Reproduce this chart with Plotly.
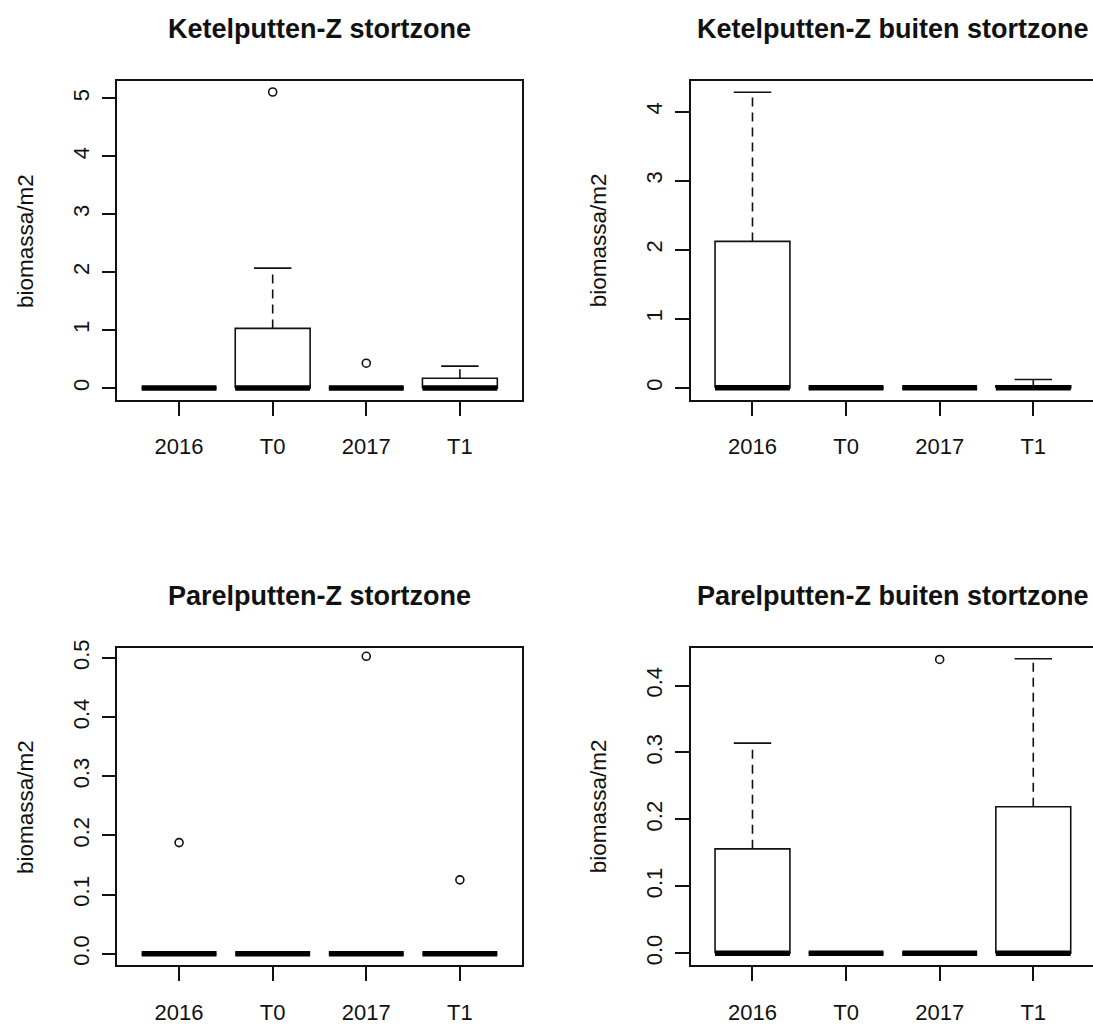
import plotly.graph_objects as go

# Sampling moments shared by all four panels
categories = ["2016", "T0", "2017", "T1"]

# Panel 1: Ketelputten-Z stortzone
kz_q1 = [0.0, 0.0, 0.0, 0.0]
kz_median = [0.0, 0.0, 0.0, 0.0]
kz_q3 = [0.0, 1.03, 0.0, 0.17]
kz_low = [0.0, 0.0, 0.0, 0.0]
kz_high = [0.0, 2.07, 0.0, 0.38]
kz_outliers = [[], [5.11], [0.43], []]

# Panel 2: Ketelputten-Z buiten stortzone
kb_q1 = [0.0, 0.0, 0.0, 0.0]
kb_median = [0.0, 0.0, 0.0, 0.0]
kb_q3 = [2.12, 0.0, 0.0, 0.03]
kb_low = [0.0, 0.0, 0.0, 0.0]
kb_high = [4.28, 0.0, 0.0, 0.12]
kb_outliers = [[], [], [], []]

# Panel 3: Parelputten-Z stortzone
pz_q1 = [0.0, 0.0, 0.0, 0.0]
pz_median = [0.0, 0.0, 0.0, 0.0]
pz_q3 = [0.0, 0.0, 0.0, 0.0]
pz_low = [0.0, 0.0, 0.0, 0.0]
pz_high = [0.0, 0.0, 0.0, 0.0]
pz_outliers = [[0.188], [], [0.503], [0.125]]

# Panel 4: Parelputten-Z buiten stortzone
pb_q1 = [0.0, 0.0, 0.0, 0.0]
pb_median = [0.0, 0.0, 0.0, 0.0]
pb_q3 = [0.156, 0.0, 0.0, 0.219]
pb_low = [0.0, 0.0, 0.0, 0.0]
pb_high = [0.314, 0.0, 0.0, 0.44]
pb_outliers = [[], [], [0.439], []]

titles = [
    "Ketelputten-Z stortzone",
    "Ketelputten-Z buiten stortzone",
    "Parelputten-Z stortzone",
    "Parelputten-Z buiten stortzone",
]
y_label = "biomassa/m2"

W, H = 1093, 1025
FONT = "Liberation Sans, Arial, sans-serif"
INK = "#111111"
BOX_HALF = 0.4
CAP_HALF = 0.2
LW = 1.6

# plot areas in pixels: (left, right, top, bottom)
areas = [
    (117.3, 522.0, 74.0, 397.7),
    (690.7, 1093.0, 74.0, 397.7),
    (117.3, 522.0, 648.7, 970.7),
    (690.7, 1093.0, 648.7, 970.7),
]
x_unit = 93.6  # pixels per category step
y_ranges = [(-0.21, 5.30), (-0.18, 4.443), (-0.0197, 0.5173), (-0.0182, 0.4564)]
y_ticks = [
    ([0, 1, 2, 3, 4, 5], ["0", "1", "2", "3", "4", "5"]),
    ([0, 1, 2, 3, 4], ["0", "1", "2", "3", "4"]),
    ([0, 0.1, 0.2, 0.3, 0.4, 0.5], ["0.0", "0.1", "0.2", "0.3", "0.4", "0.5"]),
    ([0, 0.1, 0.2, 0.3, 0.4], ["0.0", "0.1", "0.2", "0.3", "0.4"]),
]

panels = [
    (kz_q1, kz_median, kz_q3, kz_low, kz_high, kz_outliers),
    (kb_q1, kb_median, kb_q3, kb_low, kb_high, kb_outliers),
    (pz_q1, pz_median, pz_q3, pz_low, pz_high, pz_outliers),
    (pb_q1, pb_median, pb_q3, pb_low, pb_high, pb_outliers),
]

fig = go.Figure()
annotations = []
layout_axes = {}

for i, (q1, med, q3, lo, hi, outl) in enumerate(panels):
    n = i + 1
    xa = "x" if n == 1 else f"x{n}"
    ya = "y" if n == 1 else f"y{n}"
    left, right, top, bottom = areas[i]
    x0 = 0.34
    x1 = x0 + (right - left) / x_unit

    for k in range(len(categories)):
        c = k + 1
        # box outline
        fig.add_trace(go.Scatter(
            x=[c - BOX_HALF, c + BOX_HALF, c + BOX_HALF, c - BOX_HALF, c - BOX_HALF],
            y=[q1[k], q1[k], q3[k], q3[k], q1[k]],
            mode="lines", line=dict(color=INK, width=LW),
            xaxis=xa, yaxis=ya, showlegend=False, hoverinfo="skip"))
        # dashed whiskers
        for a, b in ((q3[k], hi[k]), (q1[k], lo[k])):
            fig.add_trace(go.Scatter(
                x=[c, c], y=[a, b], mode="lines",
                line=dict(color=INK, width=LW, dash="9px,6px"),
                xaxis=xa, yaxis=ya, showlegend=False, hoverinfo="skip"))
        # whisker caps
        for v in (hi[k], lo[k]):
            fig.add_trace(go.Scatter(
                x=[c - CAP_HALF, c + CAP_HALF], y=[v, v], mode="lines",
                line=dict(color=INK, width=LW),
                xaxis=xa, yaxis=ya, showlegend=False, hoverinfo="skip"))
        # thick median
        fig.add_trace(go.Scatter(
            x=[c - BOX_HALF, c + BOX_HALF], y=[med[k], med[k]], mode="lines",
            line=dict(color="#000000", width=5.5),
            xaxis=xa, yaxis=ya, showlegend=False, hoverinfo="skip"))
        # outliers
        if outl[k]:
            fig.add_trace(go.Scatter(
                x=[c] * len(outl[k]), y=outl[k], mode="markers",
                marker=dict(symbol="circle-open", size=8, color=INK,
                            line=dict(width=1.6, color=INK)),
                xaxis=xa, yaxis=ya, showlegend=False, hoverinfo="skip"))

    right_col = n in (2, 4)
    layout_axes["xaxis" if n == 1 else f"xaxis{n}"] = dict(
        domain=[left / W, right / W], range=[x0, x1], anchor=ya,
        tickmode="array", tickvals=[1, 2, 3, 4], ticktext=categories,
        ticks="outside", ticklen=14, tickwidth=LW, tickcolor=INK,
        showline=True, linecolor=INK, linewidth=LW, mirror=True,
        showgrid=False, zeroline=False, ticklabelstandoff=12,
        tickfont=dict(family=FONT, size=22, color=INK), fixedrange=True)
    tv, tt = y_ticks[i]
    layout_axes["yaxis" if n == 1 else f"yaxis{n}"] = dict(
        domain=[1 - bottom / H, 1 - top / H], range=list(y_ranges[i]), anchor=xa,
        tickmode="array", tickvals=tv, ticktext=tt, tickangle=-90,
        ticks="outside", ticklen=14, tickwidth=LW, tickcolor=INK,
        showline=True, linecolor=INK, linewidth=LW, mirror=not right_col,
        showgrid=False, zeroline=False, ticklabelstandoff=4,
        tickfont=dict(family=FONT, size=22, color=INK), fixedrange=True)

    # panel title
    title_y = 21 if n <= 2 else 596
    annotations.append(dict(
        text=f"<b>{titles[i]}</b>", x=(left + (left + 4.32 * x_unit)) / 2 / W,
        y=1 - title_y / H, xref="paper", yref="paper",
        xanchor="center", yanchor="middle", showarrow=False,
        font=dict(family=FONT, size=27, color=INK)))
    # y-axis label
    annotations.append(dict(
        text=y_label, x=(left - 92) / W, y=1 - (top + bottom) / 2 / H,
        xref="paper", yref="paper", xanchor="center", yanchor="middle",
        textangle=-90, showarrow=False,
        font=dict(family=FONT, size=22.5, color=INK)))

fig.update_layout(
    width=W, height=H, autosize=False,
    margin=dict(l=0, r=0, t=0, b=0),
    paper_bgcolor="white", plot_bgcolor="white",
    annotations=annotations, **layout_axes)

fig.write_html("out.html", config={"displayModeBar": False})
